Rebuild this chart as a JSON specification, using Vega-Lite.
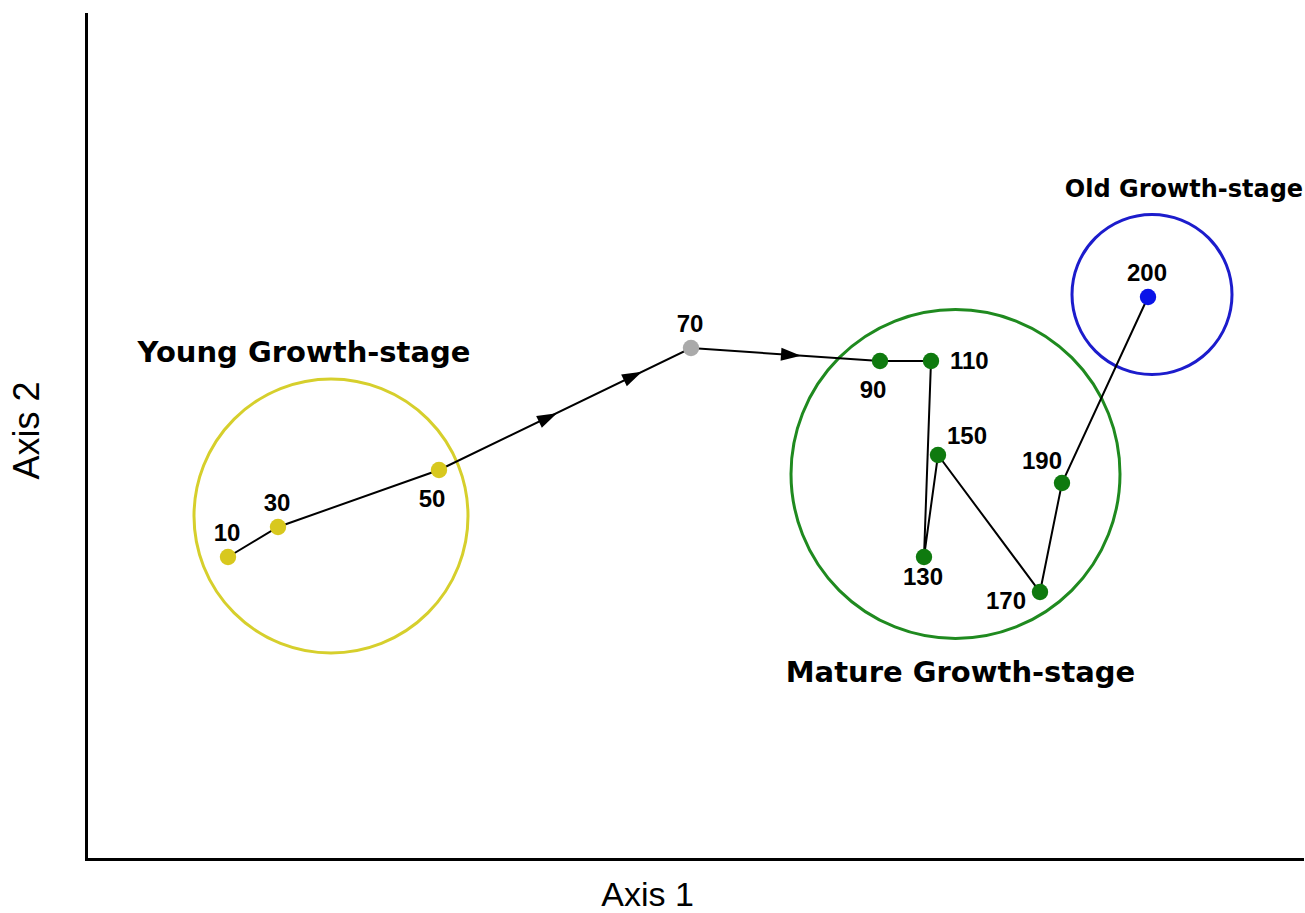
{
  "$schema": "https://vega.github.io/schema/vega-lite/v6.json",
  "width": 1216,
  "height": 845,
  "autosize": {"type": "none"},
  "padding": {"left": 86, "top": 14, "right": 3, "bottom": 54},
  "background": "white",
  "config": {"view": {"stroke": null}},
  "datasets": {
    "pts": [
      {"age": 10, "x": 142, "y": 302, "stage": "Young", "pos": "above"},
      {"age": 30, "x": 192, "y": 332, "stage": "Young", "pos": "above"},
      {"age": 50, "x": 353, "y": 389, "stage": "Young", "pos": "below"},
      {"age": 70, "x": 605, "y": 511, "stage": "Transition", "pos": "above"},
      {"age": 90, "x": 794, "y": 498, "stage": "Mature", "pos": "below"},
      {"age": 110, "x": 845, "y": 498, "stage": "Mature", "pos": "right"},
      {"age": 130, "x": 838, "y": 302, "stage": "Mature", "pos": "below2"},
      {"age": 150, "x": 852, "y": 404, "stage": "Mature", "pos": "upright"},
      {"age": 170, "x": 954, "y": 267, "stage": "Mature", "pos": "left"},
      {"age": 190, "x": 976, "y": 376, "stage": "Mature", "pos": "upleft"},
      {"age": 200, "x": 1062, "y": 562, "stage": "Old", "pos": "above"}
    ],
    "circles": [
      {"stage": "Young", "x": 245, "y": 343},
      {"stage": "Mature", "x": 869.5, "y": 385},
      {"stage": "Old", "x": 1066, "y": 564.5}
    ],
    "groups": [
      {"label": "Young Growth-stage", "x": 218, "y": 497, "stage": "Young"},
      {"label": "Mature Growth-stage", "x": 874.5, "y": 177, "stage": "Mature"},
      {"label": "Old Growth-stage", "x": 1098, "y": 662, "stage": "Old"}
    ],
    "arrows": [
      {"seg": "50-70", "x": 462, "y": 441.5},
      {"seg": "50-70", "x": 547, "y": 483},
      {"seg": "70-90", "x": 705, "y": 504}
    ]
  },
  "encoding": {
    "x": {
      "field": "x", "type": "quantitative",
      "scale": {"domain": [0, 1216], "nice": false, "zero": false},
      "axis": {
        "title": "Axis 1", "labels": false, "ticks": false, "grid": false,
        "domainColor": "black", "domainWidth": 3, "domainCap": "square",
        "titleFont": "Liberation Sans", "titleFontSize": 34, "titleFontWeight": "normal",
        "titleColor": "black", "titleBaseline": "alphabetic", "titleX": 561, "titleY": 46
      }
    },
    "y": {
      "field": "y", "type": "quantitative",
      "scale": {"domain": [0, 845], "nice": false, "zero": false},
      "axis": {
        "title": "Axis 2", "labels": false, "ticks": false, "grid": false,
        "domainColor": "black", "domainWidth": 3, "domainCap": "square",
        "titleFont": "Liberation Sans", "titleFontSize": 36, "titleFontWeight": "normal",
        "titleColor": "black", "titleBaseline": "alphabetic", "titleX": -48, "titleY": 416, "titleAngle": -90
      }
    }
  },
  "layer": [
    {
      "data": {"name": "circles"},
      "transform": [{"filter": "datum.stage === 'Young'"}],
      "mark": {"type": "point", "filled": false, "strokeWidth": 3, "opacity": 1, "shape": "circle", "size": 75076, "color": "#d6cf2c"}
    },
    {
      "data": {"name": "circles"},
      "transform": [{"filter": "datum.stage === 'Mature'"}],
      "mark": {"type": "point", "filled": false, "strokeWidth": 3, "opacity": 1, "shape": "circle", "size": 108241, "color": "#1f8a1f"}
    },
    {
      "data": {"name": "circles"},
      "transform": [{"filter": "datum.stage === 'Old'"}],
      "mark": {"type": "point", "filled": false, "strokeWidth": 3, "opacity": 1, "shape": "circle", "size": 25600, "color": "#1c1ccc"}
    },
    {
      "data": {"name": "pts"},
      "mark": {"type": "line", "color": "black", "strokeWidth": 2},
      "encoding": {"order": {"field": "age", "type": "quantitative"}}
    },
    {
      "data": {"name": "arrows"},
      "transform": [{"filter": "datum.seg === '50-70'"}],
      "mark": {"type": "point", "filled": true, "color": "black", "opacity": 1, "size": 400,
        "shape": "M 1 0 L -1 -0.65 L -1 0.65 Z", "angle": 334.2}
    },
    {
      "data": {"name": "arrows"},
      "transform": [{"filter": "datum.seg === '70-90'"}],
      "mark": {"type": "point", "filled": true, "color": "black", "opacity": 1, "size": 400,
        "shape": "M 1 0 L -1 -0.65 L -1 0.65 Z", "angle": 3.9}
    },
    {
      "data": {"name": "pts"},
      "mark": {"type": "point", "filled": true, "opacity": 1, "size": 270, "shape": "circle"},
      "encoding": {
        "fill": {"field": "stage", "type": "nominal", "legend": null,
          "scale": {"domain": ["Young", "Transition", "Mature", "Old"], "range": ["#d8c81e", "#aaaaaa", "#0f7a0f", "#0a14e8"]}}
      }
    },
    {
      "data": {"name": "pts"},
      "transform": [{"filter": "datum.pos === 'above'"}],
      "mark": {"type": "text", "font": "Liberation Sans", "fontWeight": "bold", "fontSize": 24, "color": "black",
        "align": "center", "baseline": "middle", "dx": -1, "dy": -23},
      "encoding": {"text": {"field": "age", "type": "quantitative"}}
    },
    {
      "data": {"name": "pts"},
      "transform": [{"filter": "datum.pos === 'below'"}],
      "mark": {"type": "text", "font": "Liberation Sans", "fontWeight": "bold", "fontSize": 24, "color": "black",
        "align": "center", "baseline": "middle", "dx": -7, "dy": 30},
      "encoding": {"text": {"field": "age", "type": "quantitative"}}
    },
    {
      "data": {"name": "pts"},
      "transform": [{"filter": "datum.pos === 'below2'"}],
      "mark": {"type": "text", "font": "Liberation Sans", "fontWeight": "bold", "fontSize": 24, "color": "black",
        "align": "center", "baseline": "middle", "dx": -1, "dy": 21},
      "encoding": {"text": {"field": "age", "type": "quantitative"}}
    },
    {
      "data": {"name": "pts"},
      "transform": [{"filter": "datum.pos === 'right'"}],
      "mark": {"type": "text", "font": "Liberation Sans", "fontWeight": "bold", "fontSize": 24, "color": "black",
        "align": "left", "baseline": "middle", "dx": 19, "dy": 1},
      "encoding": {"text": {"field": "age", "type": "quantitative"}}
    },
    {
      "data": {"name": "pts"},
      "transform": [{"filter": "datum.pos === 'upright'"}],
      "mark": {"type": "text", "font": "Liberation Sans", "fontWeight": "bold", "fontSize": 24, "color": "black",
        "align": "left", "baseline": "middle", "dx": 9, "dy": -18},
      "encoding": {"text": {"field": "age", "type": "quantitative"}}
    },
    {
      "data": {"name": "pts"},
      "transform": [{"filter": "datum.pos === 'upleft'"}],
      "mark": {"type": "text", "font": "Liberation Sans", "fontWeight": "bold", "fontSize": 24, "color": "black",
        "align": "right", "baseline": "middle", "dx": 0, "dy": -21},
      "encoding": {"text": {"field": "age", "type": "quantitative"}}
    },
    {
      "data": {"name": "pts"},
      "transform": [{"filter": "datum.pos === 'left'"}],
      "mark": {"type": "text", "font": "Liberation Sans", "fontWeight": "bold", "fontSize": 24, "color": "black",
        "align": "right", "baseline": "middle", "dx": -14, "dy": 10},
      "encoding": {"text": {"field": "age", "type": "quantitative"}}
    },
    {
      "data": {"name": "groups"},
      "transform": [{"filter": "datum.stage !== 'Old'"}],
      "mark": {"type": "text", "font": "DejaVu Sans", "fontWeight": "bold", "fontSize": 29, "color": "black",
        "align": "center", "baseline": "alphabetic"},
      "encoding": {"text": {"field": "label", "type": "nominal"}}
    },
    {
      "data": {"name": "groups"},
      "transform": [{"filter": "datum.stage === 'Old'"}],
      "mark": {"type": "text", "font": "DejaVu Sans", "fontWeight": "bold", "fontSize": 24, "color": "black",
        "align": "center", "baseline": "alphabetic"},
      "encoding": {"text": {"field": "label", "type": "nominal"}}
    }
  ]
}
